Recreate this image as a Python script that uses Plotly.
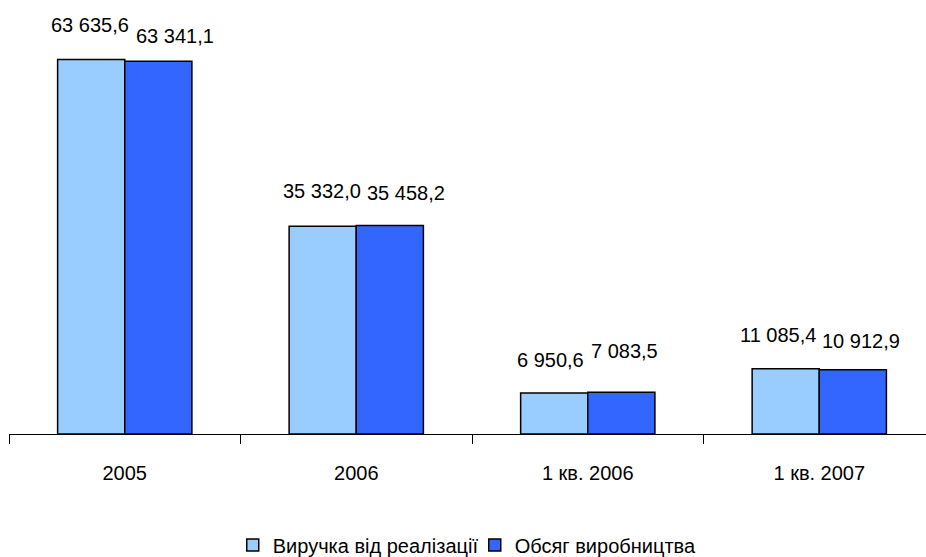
import plotly.graph_objects as go

categories = ["2005", "2006", "1 кв. 2006", "1 кв. 2007"]
revenue = [63635.6, 35332.0, 6950.6, 11085.4]
production = [63341.1, 35458.2, 7083.5, 10912.9]
series_names = ["Виручка від реалізації", "Обсяг виробництва"]
colors = ["#99CCFF", "#3366FF"]

# label offsets (pixels) relative to bar top-centre, mimicking original placement
rev_label_shift = [(-1, 35), (-1, 35), (-4, 33), (-8, 34)]
prod_label_shift = [(16, 25), (16, 32), (3, 41), (8, 29)]

FONT = "Liberation Sans, Arial, sans-serif"

fig = go.Figure()
fig.add_trace(go.Bar(x=categories, y=revenue, name=series_names[0],
                     marker=dict(color=colors[0], line=dict(color="black", width=1.5))))
fig.add_trace(go.Bar(x=categories, y=production, name=series_names[1],
                     marker=dict(color=colors[1], line=dict(color="black", width=1.5))))

def fmt(v):
    return f"{v:,.1f}".replace(",", " ").replace(".", ",")

annotations = []
half = 33.75
for i, c in enumerate(categories):
    dx, dy = rev_label_shift[i]
    annotations.append(dict(x=i, y=revenue[i], xref="x", yref="y", text=fmt(revenue[i]), showarrow=False,
                            xshift=-half + dx, yshift=dy, font=dict(size=20, color="black", family=FONT)))
    dx, dy = prod_label_shift[i]
    annotations.append(dict(x=i, y=production[i], xref="x", yref="y", text=fmt(production[i]), showarrow=False,
                            xshift=half + dx, yshift=dy, font=dict(size=20, color="black", family=FONT)))

fig.update_layout(
    width=926, height=557,
    margin=dict(l=9, r=0, t=0, b=123, autoexpand=False),
    paper_bgcolor="white", plot_bgcolor="white",
    barmode="group", bargap=0.42, bargroupgap=0,
    font=dict(family=FONT, size=20, color="black"),
    annotations=annotations,
    showlegend=True,
    legend=dict(orientation="h", x=0.244, xanchor="left", y=-0.256, yanchor="middle",
                font=dict(size=20, family=FONT), itemwidth=30, tracegroupgap=0,
                entrywidth=197, entrywidthmode="pixels", itemclick=False),
    xaxis=dict(type="category", range=[-0.5, 3.461], showline=True, linecolor="black", linewidth=1,
               ticks="outside", tickson="boundaries", ticklen=9, tickcolor="black", tickwidth=1,
               showgrid=False, ticklabelstandoff=21, tickfont=dict(size=20, family=FONT)),
    yaxis=dict(range=[0, 73767], visible=False, showgrid=False, zeroline=False),
)

fig.write_html("out.html")
